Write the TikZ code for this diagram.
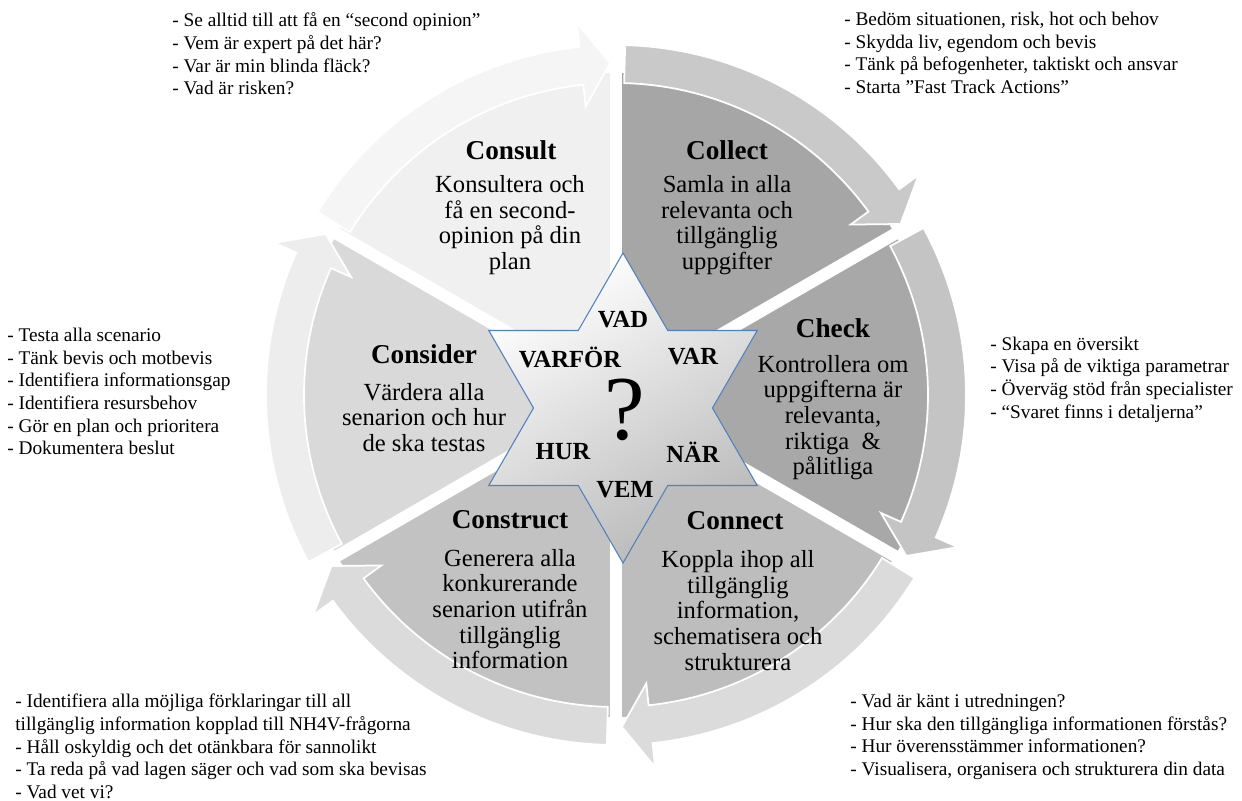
\documentclass[tikz,border=0pt]{standalone}
\usepackage{fontspec}
\setmainfont{Liberation Serif}
\usetikzlibrary{positioning}

\definecolor{consultfill}{gray}{0.94}
\definecolor{collectfill}{gray}{0.65}
\definecolor{checkfill}{gray}{0.66}
\definecolor{connectfill}{gray}{0.74}
\definecolor{constructfill}{gray}{0.76}
\definecolor{considerfill}{gray}{0.85}
\definecolor{consultband}{gray}{0.96}
\definecolor{collectband}{gray}{0.79}
\definecolor{checkband}{gray}{0.77}
\definecolor{connectband}{gray}{0.86}
\definecolor{constructband}{gray}{0.86}
\definecolor{considerband}{gray}{0.93}
\definecolor{starblue}{RGB}{79,129,189}

\tikzset{
  stagetitle/.style={font=\fontsize{15.5}{17}\selectfont\bfseries},
  stagebody/.style={font=\fontsize{14}{14.6}\selectfont, align=center},
  sidenote/.style={font=\fontsize{11}{12.9}\selectfont, align=left, anchor=west, inner sep=0pt},
  qword/.style={font=\fontsize{14}{16}\selectfont\bfseries},
}

\begin{document}
\begin{tikzpicture}[x=0.02cm,y=0.02cm]

\useasboundingbox[fill=white] (-616,-406) rectangle (626,395);

% sectors
\foreach \a/\c in {150/consultfill,90/collectfill,30/checkfill,-30/connectfill,-90/constructfill,-150/considerfill}
	\fill[\c] (0,0) -- (\a:322) arc[start angle=\a, end angle=\a-60, radius=322] -- cycle;

% gaps
\foreach \a in {150,90,...,-150}
	\draw[white, line width=0.24cm] (0,0) -- (\a:340);

% arrows round the circle
\foreach \a/\c in {150/consultband,90/collectband,30/checkband,-30/connectband,-90/constructband,-150/considerband}
	\path[fill=\c, draw=white, line width=1pt] (\a-1.5:312) arc[start angle=\a-1.5, end angle=\a-54, radius=312]
		-- (\a-54:290) -- (\a-59:332) -- (\a-54:374) -- (\a-54:350)
		arc[start angle=\a-54, end angle=\a-1.5, radius=350] -- cycle;

% star
\begin{scope}[shift={(7,-13)}]
\draw[starblue, line width=0.6pt, top color=white, bottom color=gray!55, shading angle=30]
	(90:155) -- (60:89.5) -- (30:155) -- (0:89.5) -- (-30:155) -- (-60:89.5) -- (-90:155)
	-- (-120:89.5) -- (-150:155) -- (180:89.5) -- (150:155) -- (120:89.5) -- cycle;
\end{scope}

\node[qword] (vad) at (7,75) {VAD};
\node[qword] (varfor) at (-46,38) {VARFÖR};
\node[qword] (var) at (77,38) {VAR};
\node[qword] (hur) at (-53,-57) {HUR};
\node[qword] (nar) at (77,-57) {NÄR};
\node[qword] (vem) at (9,-95) {VEM};
\node[font=\fontsize{52}{52}\selectfont] (qmark) at (9,-15) {?};

% stages
\node[stagetitle] (consult) at (-105,245) {Consult};
\node[stagebody] (consult-txt) at (-106,170) {Konsultera och\\få en second-\\opinion på din\\plan};
\node[stagetitle] (collect) at (111,245) {Collect};
\node[stagebody] (collect-txt) at (111,170) {Samla in alla\\relevanta och\\tillgänglig\\uppgifter};
\node[stagetitle] (check) at (217,67) {Check};
\node[stagebody] (check-txt) at (217,-22.5) {Kontrollera om\\uppgifterna är\\relevanta,\\riktiga\ \ \&\\pålitliga};
\node[stagetitle] (connect) at (119,-126) {Connect};
\node[stagebody] (connect-txt) at (122,-215.5) {Koppla ihop all\\tillgänglig\\information,\\schematisera och\\strukturera};
\node[stagetitle] (construct) at (-106,-125) {Construct};
\node[stagebody] (construct-txt) at (-106,-214) {Generera alla\\konkurerande\\senarion utifrån\\tillgänglig\\information};
\node[stagetitle] (consider) at (-192,41) {Consider};
\node[stagebody] (consider-txt) at (-192,-22.5) {Värdera alla\\senarion och hur\\de ska testas};

% notes
\node[sidenote] (consult-notes) at (-444,341) {- Se alltid till att få en “second opinion”\\- Vem är expert på det här?\\- Var är min blinda fläck?\\- Vad är risken?};
\node[sidenote] (collect-notes) at (228,342) {- Bedöm situationen, risk, hot och behov\\- Skydda liv, egendom och bevis\\- Tänk på befogenheter, taktiskt och ansvar\\- Starta ”Fast Track Actions”};
\node[sidenote] (check-notes) at (374,15.5) {- Skapa en översikt\\- Visa på de viktiga parametrar\\- Överväg stöd från specialister\\- “Svaret finns i detaljerna”};
\node[sidenote] (connect-notes) at (234,-342) {- Vad är känt i utredningen?\\- Hur ska den tillgängliga informationen förstås?\\- Hur överensstämmer informationen?\\- Visualisera, organisera och strukturera din data};
\node[sidenote] (construct-notes) at (-601,-351.5) {- Identifiera alla möjliga förklaringar till all\\tillgänglig information kopplad till NH4V-frågorna\\- Håll oskyldig och det otänkbara för sannolikt\\- Ta reda på vad lagen säger och vad som ska bevisas\\- Vad vet vi?};
\node[sidenote] (consider-notes) at (-609,3.5) {- Testa alla scenario\\- Tänk bevis och motbevis\\- Identifiera informationsgap\\- Identifiera resursbehov\\- Gör en plan och prioritera\\- Dokumentera beslut};

\end{tikzpicture}
\end{document}
